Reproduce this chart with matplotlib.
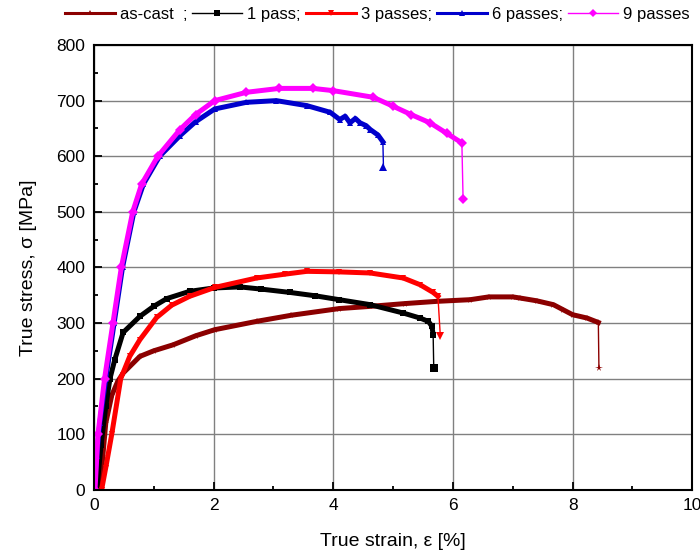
import matplotlib
matplotlib.use("Agg")
import matplotlib.pyplot as plt
from matplotlib.lines import Line2D
from matplotlib.ticker import MultipleLocator

plt.rcParams['font.family'] = ['Liberation Sans', 'DejaVu Sans']

# true strain [%] / true stress [MPa]
cast_x = [0.10, 0.15, 0.20, 0.30, 0.40, 0.49, 0.77, 1.00, 1.33, 1.70, 2.02, 2.72, 3.30,
          4.10, 4.62, 5.20, 5.73, 6.29, 6.60, 7.00, 7.12, 7.40, 7.68, 7.84, 8.00, 8.24,
          8.43, 8.44]
cast_y = [0, 60, 120, 170, 195, 210, 240, 250, 261, 277, 288, 303, 314,
          326, 330, 335, 339, 342, 347, 347, 345, 340, 333, 324, 315, 309,
          301, 219]

p1_x = [0.05, 0.12, 0.20, 0.27, 0.35, 0.49, 0.77, 1.00, 1.22, 1.60, 2.00, 2.44, 2.80,
        3.28, 3.70, 4.10, 4.62, 5.17, 5.45, 5.59, 5.65, 5.67, 5.68]
p1_y = [0, 80, 150, 200, 234, 283, 312, 330, 344, 357, 363, 365, 361,
        355, 349, 342, 333, 318, 309, 303, 294, 279, 219]

p3_x = [0.13, 0.20, 0.30, 0.45, 0.60, 0.77, 1.05, 1.30, 1.60, 2.02, 2.72, 3.20, 3.56,
        4.10, 4.62, 5.17, 5.45, 5.67, 5.75, 5.79]
p3_y = [0, 40, 100, 200, 240, 270, 310, 332, 348, 364, 381, 388, 393,
        392, 390, 381, 369, 355, 348, 276]

p6_x = [0.00, 0.05, 0.10, 0.20, 0.34, 0.48, 0.67, 0.83, 1.10, 1.44, 1.70, 2.02, 2.55,
        3.05, 3.56, 3.95, 4.11, 4.20, 4.28, 4.37, 4.45, 4.55, 4.62, 4.75, 4.83, 4.84]
p6_y = [0, 60, 120, 200, 300, 400, 500, 550, 600, 637, 662, 685, 697,
        700, 691, 679, 666, 672, 660, 668, 660, 655, 648, 638, 626, 580]

p9_x = [0.02, 0.07, 0.18, 0.32, 0.46, 0.65, 0.80, 1.07, 1.44, 1.70, 2.02, 2.55, 3.10,
        3.66, 4.00, 4.67, 5.00, 5.30, 5.62, 5.90, 6.15, 6.17]
p9_y = [0, 100, 200, 300, 400, 500, 550, 600, 648, 675, 700, 715, 722,
        722, 718, 706, 690, 675, 660, 641, 624, 523]

series = [
    (cast_x, cast_y, '#8B0000', '*', 'as-cast  ;', 2.2),
    (p1_x, p1_y, 'black', 's', '1 pass;', 1.0),
    (p3_x, p3_y, '#FF0000', 'v', '3 passes;', 2.2),
    (p6_x, p6_y, '#0000CC', '^', '6 passes;', 2.2),
    (p9_x, p9_y, '#FF00FF', 'D', '9 passes', 1.0),
]

fig = plt.figure(figsize=(7, 5.56), dpi=100)
ax = fig.add_axes([0.134, 0.119, 0.855, 0.80])

for x, y, c, m, lab, lw in series:
    # the loaded curve, drawn thick
    ax.plot(x[:-1], y[:-1], color=c, lw=3.6, marker=m, ms=5, mew=0)
    # fracture drop, thin with a marker at the end
    ax.plot(x[-2:], y[-2:], color=c, lw=1.0)
    ax.plot(x[-1:], y[-1:], color=c, lw=0, marker=m, ms=5.5, mew=0)

ax.set_xlim(0, 10)
ax.set_ylim(0, 800)
ax.xaxis.set_major_locator(MultipleLocator(2))
ax.xaxis.set_minor_locator(MultipleLocator(1))
ax.yaxis.set_major_locator(MultipleLocator(100))
ax.yaxis.set_minor_locator(MultipleLocator(50))
ax.tick_params(which='major', direction='in', length=6, width=1.3, labelsize=12.5, pad=6)
ax.tick_params(which='minor', direction='in', length=3, width=1.3)
ax.grid(True, which='major', color='#808080', lw=1.0)
ax.set_axisbelow(True)
for s in ax.spines.values():
    s.set_linewidth(1.5)

ax.set_xlabel('True strain, ε [%]', fontsize=14, labelpad=14)
ax.set_ylabel('True stress, σ [MPa]', fontsize=14, labelpad=14)

handles = [Line2D([], [], color=c, lw=lw, marker=m, ms=4, mew=0)
           for _, _, c, m, _, lw in series]
labels = [s[4] for s in series]
fig.legend(handles, labels, loc='upper left', bbox_to_anchor=(0.078, 1.005), ncol=5,
           frameon=False, fontsize=12, handlelength=3.0, handletextpad=0.3,
           columnspacing=0.3, borderaxespad=0.2)

fig.savefig('out.png', dpi=100)
